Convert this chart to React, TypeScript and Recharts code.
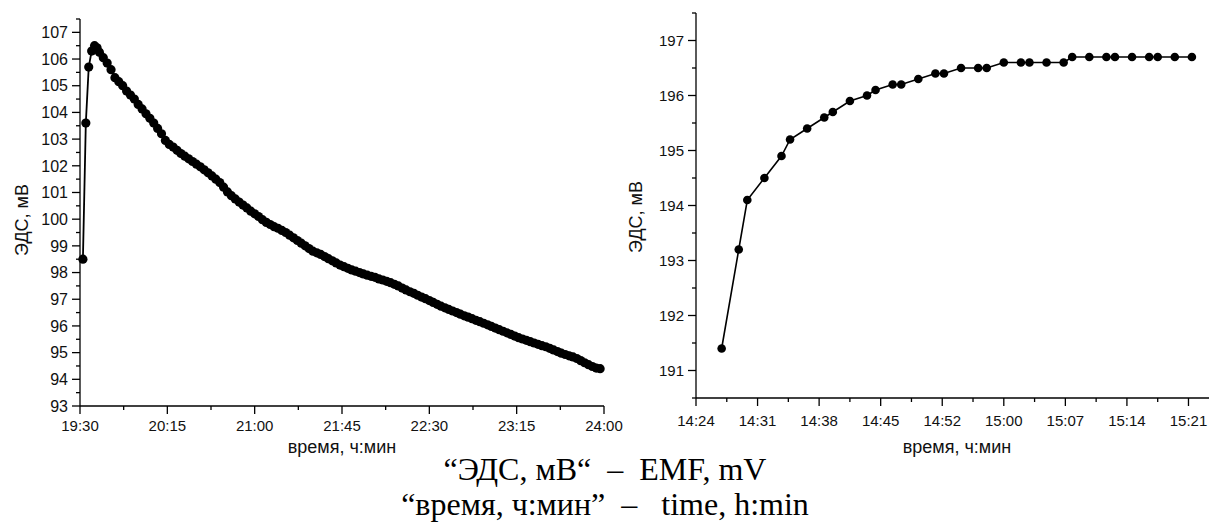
import { LineChart, Line, XAxis, YAxis } from "recharts";

// left panel: time in minutes since midnight, EMF in mV
const leftTimes = [
  1171.5, 1173, 1174.5, 1176, 1177.5, 1178.8,
  1180, 1182, 1184, 1186, 1188, 1190, 1192, 1194, 1196, 1198,
  1200, 1202, 1204, 1206, 1208, 1210, 1212, 1214, 1216, 1218,
  1220, 1222, 1224, 1226, 1228, 1230, 1232, 1234, 1236, 1238,
  1240, 1242, 1244, 1246, 1248, 1250, 1252, 1254, 1256, 1258,
  1260, 1262, 1264, 1266, 1268, 1270, 1272, 1274, 1276, 1278,
  1280, 1282, 1284, 1286, 1288, 1290, 1292, 1294, 1296, 1298,
  1300, 1302, 1304, 1306, 1308, 1310, 1312, 1314, 1316, 1318,
  1320, 1322, 1324, 1326, 1328, 1330, 1332, 1334, 1336, 1338,
  1340, 1342, 1344, 1346, 1348, 1350, 1352, 1354, 1356, 1358,
  1360, 1362, 1364, 1366, 1368, 1370, 1372, 1374, 1376, 1378,
  1380, 1382, 1384, 1386, 1388, 1390, 1392, 1394, 1396, 1398,
  1400, 1402, 1404, 1406, 1408, 1410, 1412, 1414, 1416, 1418,
  1420, 1422, 1424, 1426, 1428, 1430, 1432, 1434, 1436, 1438,
];
const leftEmf = [
  98.5, 103.6, 105.7, 106.3, 106.5, 106.42,
  106.25, 106.05, 105.85, 105.6, 105.3, 105.15, 105.0, 104.8, 104.65, 104.5,
  104.3, 104.13, 103.95, 103.78, 103.6, 103.4, 103.2, 102.95, 102.8, 102.7,
  102.58, 102.46, 102.36, 102.26, 102.16, 102.06, 101.96, 101.85, 101.74, 101.62,
  101.5, 101.37, 101.2, 101.02, 100.88, 100.76, 100.64, 100.53, 100.42, 100.3,
  100.2, 100.1, 99.98, 99.88, 99.8, 99.72, 99.66, 99.58, 99.5, 99.4,
  99.3, 99.2, 99.1, 99.0, 98.9, 98.8, 98.74, 98.68, 98.6, 98.52,
  98.44, 98.36, 98.28, 98.22, 98.16, 98.1, 98.05, 98.0, 97.95, 97.9,
  97.86, 97.82, 97.76, 97.72, 97.67, 97.62, 97.56, 97.5, 97.42, 97.35,
  97.28, 97.22, 97.15, 97.08, 97.02, 96.95, 96.88, 96.81, 96.74, 96.68,
  96.62, 96.56, 96.5, 96.44, 96.38, 96.33, 96.27, 96.21, 96.16, 96.1,
  96.04, 95.98, 95.92, 95.86, 95.8, 95.74, 95.68, 95.62, 95.56, 95.51,
  95.46, 95.41, 95.36, 95.31, 95.26, 95.22, 95.16, 95.1, 95.04, 94.98,
  94.93, 94.88, 94.84, 94.78, 94.7, 94.62, 94.55, 94.48, 94.42, 94.4,
];
const leftXMajor = [1170, 1215, 1260, 1305, 1350, 1395, 1440];
const leftXMinor = [1192.5, 1237.5, 1282.5, 1327.5, 1372.5, 1417.5];
const leftYMajor = [93, 94, 95, 96, 97, 98, 99, 100, 101, 102, 103, 104, 105, 106, 107];
const leftYMinor = [93.5, 94.5, 95.5, 96.5, 97.5, 98.5, 99.5, 100.5, 101.5, 102.5, 103.5, 104.5, 105.5, 106.5, 107.5];

// right panel
const rightTimes = [
  867, 869, 870, 872, 874, 875, 877, 879, 880, 882,
  884, 885, 887, 888, 890, 892, 893, 895, 897, 898,
  900, 902, 903, 905, 907, 908, 910, 912, 913, 915,
  917, 918, 920, 922,
];
const rightEmf = [
  191.4, 193.2, 194.1, 194.5, 194.9, 195.2, 195.4, 195.6, 195.7, 195.9,
  196.0, 196.1, 196.2, 196.2, 196.3, 196.4, 196.4, 196.5, 196.5, 196.5,
  196.6, 196.6, 196.6, 196.6, 196.6, 196.7, 196.7, 196.7, 196.7, 196.7,
  196.7, 196.7, 196.7, 196.7,
];
const rightXMajor = [864, 871.2, 878.4, 885.6, 892.8, 900, 907.2, 914.4, 921.6];
const rightXMinor = [867.6, 874.8, 882, 889.2, 896.4, 903.6, 910.8, 918];
const rightYMajor = [191, 192, 193, 194, 195, 196, 197];
const rightYMinor = [190.5, 191.5, 192.5, 193.5, 194.5, 195.5, 196.5, 197.5];

const leftData = leftTimes.map((t, i) => ({ t, v: leftEmf[i] }));
const rightData = rightTimes.map((t, i) => ({ t, v: rightEmf[i] }));

const FONT = '"Liberation Sans", Arial, sans-serif';

const hhmm = (m: number) => {
  const h = Math.floor(m / 60 + 1e-9);
  const mm = Math.floor(m - h * 60 + 1e-6);
  return `${h}:${String(mm).padStart(2, "0")}`;
};

function YTick(props: any) {
  const { x, y, payload, majors, fontSize } = props;
  const major = majors.includes(payload.value);
  return (
    <g>
      <line x1={x - (major ? 8 : 4)} x2={x} y1={y} y2={y} stroke="#000" strokeWidth={1.3} />
      {major && (
        <text x={x - 12} y={y} dy="0.36em" textAnchor="end" fontSize={fontSize} fontFamily={FONT} fill="#111">
          {payload.value}
        </text>
      )}
    </g>
  );
}

function XTick(props: any) {
  const { x, y, payload, majors, labelY } = props;
  const major = majors.includes(payload.value);
  return (
    <g>
      <line x1={x} x2={x} y1={y} y2={y + (major ? 8 : 4)} stroke="#000" strokeWidth={1.3} />
      {major && (
        <text x={x} y={y + labelY} textAnchor="middle" fontSize={15} fontFamily={FONT} fill="#111">
          {hhmm(payload.value)}
        </text>
      )}
    </g>
  );
}

const axisLine = { stroke: "#000", strokeWidth: 1.3 };

const titleStyle: React.CSSProperties = {
  position: "absolute",
  fontFamily: FONT,
  fontSize: 18,
  color: "#111",
  whiteSpace: "nowrap",
  lineHeight: "20px",
};

export default function App() {
  return (
    <div style={{ position: "absolute", left: 0, top: 0, width: 1210, height: 527, background: "#fff", overflow: "hidden" }}>
      <div style={{ position: "absolute", left: 0, top: 0 }}>
        <LineChart width={640} height={440} data={leftData} margin={{ top: 19, right: 36, bottom: 0, left: 0 }}>
          <XAxis
            dataKey="t"
            type="number"
            domain={[1170, 1440]}
            ticks={[...leftXMajor, ...leftXMinor].sort((a, b) => a - b)}
            interval={0}
            height={34}
            tickSize={0}
            tickMargin={0}
            tickLine={false}
            axisLine={axisLine}
            tick={<XTick majors={leftXMajor} labelY={25} />}
          />
          <YAxis
            type="number"
            domain={[93, 107.5]}
            ticks={[...leftYMajor, ...leftYMinor].sort((a, b) => a - b)}
            interval={0}
            width={80}
            tickSize={0}
            tickMargin={0}
            tickLine={false}
            axisLine={axisLine}
            tick={<YTick majors={leftYMajor} fontSize={16} />}
          />
          <Line
            dataKey="v"
            stroke="#000"
            strokeWidth={1.8}
            dot={{ r: 4.6, fill: "#000", stroke: "#000", strokeWidth: 0 }}
            isAnimationActive={false}
          />
        </LineChart>
      </div>

      <div style={{ position: "absolute", left: 600, top: 0 }}>
        <LineChart width={610} height={432} data={rightData} margin={{ top: 13, right: 1, bottom: 0, left: 0 }}>
          <XAxis
            dataKey="t"
            type="number"
            domain={[864, 924]}
            ticks={[...rightXMajor, ...rightXMinor].sort((a, b) => a - b)}
            interval={0}
            height={34}
            tickSize={0}
            tickMargin={0}
            tickLine={false}
            axisLine={axisLine}
            tick={<XTick majors={rightXMajor} labelY={28} />}
          />
          <YAxis
            type="number"
            domain={[190.5, 197.5]}
            ticks={[...rightYMajor, ...rightYMinor].sort((a, b) => a - b)}
            interval={0}
            width={96}
            tickSize={0}
            tickMargin={0}
            tickLine={false}
            axisLine={axisLine}
            tick={<YTick majors={rightYMajor} fontSize={15} />}
          />
          <Line
            dataKey="v"
            stroke="#000"
            strokeWidth={1.6}
            dot={{ r: 4.3, fill: "#000", stroke: "#000", strokeWidth: 0 }}
            isAnimationActive={false}
          />
        </LineChart>
      </div>

      {/* axis titles */}
      <div style={{ ...titleStyle, left: 22, top: 220, transform: "translate(-50%, -50%) rotate(-90deg)" }}>ЭДС, мВ</div>
      <div style={{ ...titleStyle, left: 636, top: 217, transform: "translate(-50%, -50%) rotate(-90deg)" }}>ЭДС, мВ</div>
      <div style={{ ...titleStyle, left: 342, top: 447, transform: "translate(-50%, -50%)" }}>время, ч:мин</div>
      <div style={{ ...titleStyle, left: 957, top: 447, transform: "translate(-50%, -50%)" }}>время, ч:мин</div>

      {/* translation note under the charts */}
      <div
        style={{
          position: "absolute",
          left: 0,
          top: 452,
          width: 1210,
          textAlign: "center",
          fontFamily: '"Liberation Serif", "Times New Roman", serif',
          fontSize: 32,
          lineHeight: "35px",
          whiteSpace: "pre",
          color: "#000",
        }}
      >
        {"“ЭДС, мВ“  –  EMF, mV\n“время, ч:мин”  –   time, h:min"}
      </div>
    </div>
  );
}
